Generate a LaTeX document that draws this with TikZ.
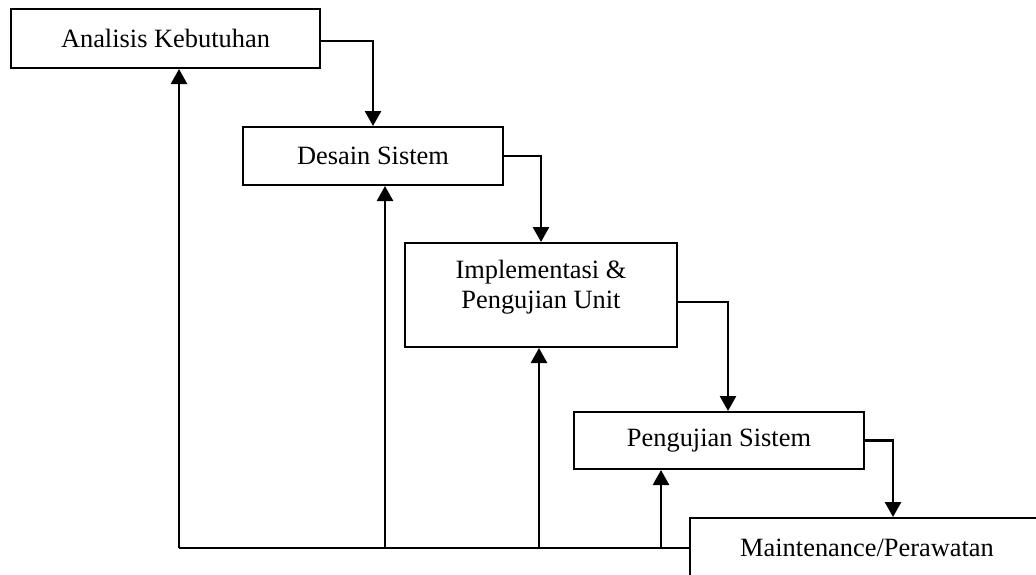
\documentclass[tikz,border=0pt]{standalone}
\usepackage{fontspec}
\setmainfont{Liberation Serif}
\usepackage{tikz}
\usetikzlibrary{calc, positioning, arrows.meta}
\tikzstyle{box}=[draw, shape=rectangle, line width=1pt, inner sep=0pt, align=center, font=\fontsize{13.2}{15}\selectfont]
\tikzstyle{flow}=[line width=1.3pt, ->]
\tikzstyle{back}=[line width=1.1pt]
\tikzset{>={Triangle[width=8pt,length=7.5pt]}}

\begin{document}
\begin{tikzpicture}[x=0.5pt, y=-0.5pt]
\useasboundingbox (0,0) rectangle (1036,574);
\clip (0,0) rectangle (1036,574);
\node[box, minimum width=154.5pt, minimum height=29.5pt] (analisis) at (165.5,38.5) {Analisis Kebutuhan};
\node[box, minimum width=130pt, minimum height=29pt] (desain) at (373,156) {Desain Sistem};
\node[box, minimum width=136pt, minimum height=52pt, text depth=11pt] (impl) at (541,295) {Implementasi \&\\Pengujian Unit};
\node[box, minimum width=145pt, minimum height=28.5pt] (uji) at (719,440.5) {Pengujian Sistem};
\node[box, minimum width=177pt, minimum height=30pt] (maint) at (867,548) {Maintenance/Perawatan};
%
\draw[flow] ([yshift=-1.2pt]analisis.east) -| (desain.north);
\draw[flow] (desain.east) -| (impl.north);
\draw[flow] ([yshift=-3.5pt]impl.east) -| ([xshift=4.5pt]uji.north);
\draw[flow] (uji.east) -| ([xshift=13pt]maint.north);
%
\coordinate (f1) at (179,548);
\coordinate (f2) at (385,548);
\coordinate (f3) at (539,548);
\coordinate (f4) at (661,548);
\draw[back] (maint.west) -- (f1);
\draw[flow] (f1) -- (f1 |- analisis.south);
\draw[flow] (f2) -- (f2 |- desain.south);
\draw[flow] (f3) -- (f3 |- impl.south);
\draw[flow] (f4) -- (f4 |- uji.south);
%
\end{tikzpicture}
\end{document}
